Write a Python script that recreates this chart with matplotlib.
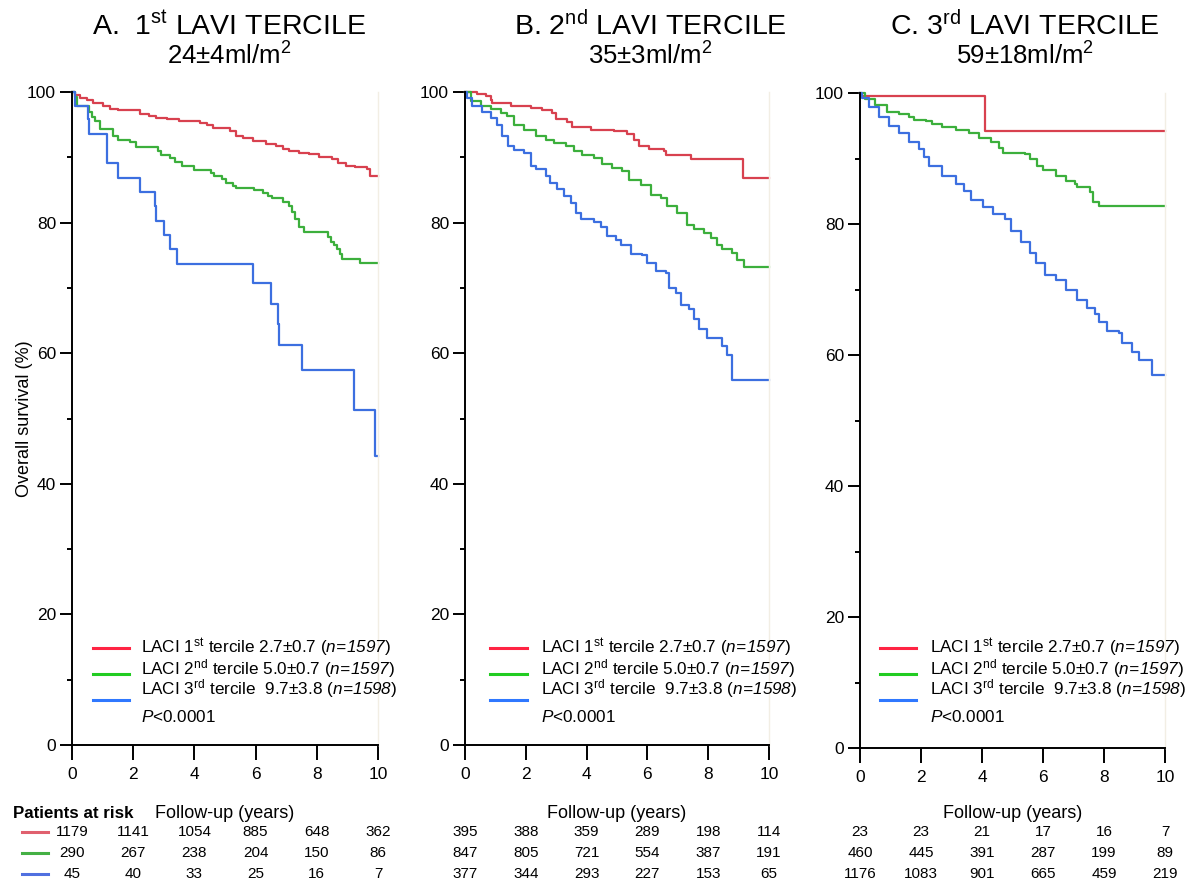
import matplotlib.pyplot as plt
import matplotlib.transforms as mtransforms

plt.rcParams['font.family'] = ['Liberation Sans', 'DejaVu Sans']
plt.rcParams['mathtext.fontset'] = 'custom'
plt.rcParams['mathtext.rm'] = 'Liberation Sans:italic'
plt.rcParams['mathtext.it'] = 'Liberation Sans:italic'
plt.rcParams['mathtext.sf'] = 'Liberation Sans'

W, H = 1194, 886

# ---- data ----
titles = [r'A.  1$^{\mathsf{st}}$ LAVI TERCILE',
          r'B. 2$^{\mathsf{nd}}$ LAVI TERCILE',
          r'C. 3$^{\mathsf{rd}}$ LAVI TERCILE']
subtitles = [r'24±4ml/m$^{\mathsf{2}}$',
             r'35±3ml/m$^{\mathsf{2}}$',
             r'59±18ml/m$^{\mathsf{2}}$']
legend_labels = [r'LACI 1$^{\mathsf{st}}$ tercile 2.7±0.7 ($\mathrm{n\!=\!1597}$)',
                 r'LACI 2$^{\mathsf{nd}}$ tercile 5.0±0.7 ($\mathrm{n\!=\!1597}$)',
                 r'LACI 3$^{\mathsf{rd}}$ tercile  9.7±3.8 ($\mathrm{n\!=\!1598}$)']
p_label = r'$\mathit{P}$<0.0001'

risk_times = [0, 2, 4, 6, 8, 10]

# panel A
a_red_t = [0, 0.1, 0.27, 0.5, 0.7, 1.0, 1.25, 1.5, 1.79, 2.22, 2.5, 2.76, 3.09, 3.5, 3.85, 4.17, 4.4,
           4.6, 5.15, 5.36, 5.6, 5.9, 6.34, 6.66, 6.88, 7.1, 7.42, 7.75, 8.07, 8.5, 8.7, 8.94,
           9.26, 9.64, 9.75, 10]
a_red_s = [100, 99.6, 99.1, 98.7, 98.3, 97.9, 97.4, 97.3, 97.2, 96.7, 96.4, 96.05, 95.8, 95.6, 95.5,
           95.2, 94.9, 94.5, 94.0, 93.3, 92.9, 92.5, 92.0, 91.7, 91.2, 91.0, 90.7, 90.5, 90.0,
           89.7, 89.2, 88.7, 88.5, 88.2, 87.1, 87.1]
a_green_t = [0, 0.1, 0.16, 0.55, 0.65, 0.76, 0.92, 1.35, 1.5, 1.9, 2.1, 2.8, 2.9, 3.2, 3.35, 3.58,
             3.98, 4.55, 4.65, 4.9, 5.04, 5.25, 5.36, 5.96, 6.23, 6.4, 6.55, 6.88, 7.1, 7.18, 7.28,
             7.42, 7.58, 8.36, 8.45, 8.55, 8.65, 8.75, 8.83, 9.4, 10]
a_green_s = [100, 99.3, 97.8, 97.0, 96.2, 95.5, 94.3, 93.3, 92.7, 92.3, 91.6, 91.0, 90.4, 89.9, 89.3,
             88.7, 88.1, 87.6, 87.1, 86.7, 86.1, 85.6, 85.3, 85.0, 84.6, 84.1, 83.7, 83.1, 82.5,
             81.6, 80.6, 79.3, 78.6, 77.8, 77.1, 76.5, 75.9, 75.2, 74.5, 73.8, 73.8]
a_blue_t = [0, 0.1, 0.52, 0.57, 1.15, 1.49, 2.21, 2.7, 2.73, 3.0, 3.21, 3.42, 5.92, 6.51, 6.73, 6.76,
            7.51, 9.22, 9.89, 10]
a_blue_s = [100, 97.8, 95.8, 93.5, 89.1, 86.9, 84.7, 82.6, 80.3, 78.1, 75.9, 73.6, 70.7, 67.5, 64.4,
            61.3, 57.5, 51.3, 44.2, 44.2]

# panel B
b_red_t = [0, 0.41, 0.68, 0.84, 0.9, 1.5, 2.16, 2.54, 2.87, 2.98, 3.37, 3.53, 4.13, 4.9, 5.34, 5.56,
           5.72, 6.05, 6.55, 6.6, 7.42, 9.14, 10]
b_red_s = [100, 99.7, 99.4, 98.8, 98.3, 97.9, 97.6, 97.2, 96.8, 95.8, 95.4, 94.7, 94.2, 94.0, 93.5,
           92.7, 91.8, 91.3, 90.9, 90.3, 89.8, 86.9, 86.9]
b_green_t = [0, 0.19, 0.52, 0.84, 1.17, 1.39, 1.61, 1.94, 2.32, 2.65, 2.93, 3.31, 3.59, 3.86, 4.24,
             4.52, 4.85, 5.18, 5.39, 5.78, 6.11, 6.44, 6.66, 6.98, 7.31, 7.53, 7.86, 8.08, 8.3,
             8.46, 8.79, 8.96, 9.18, 10]
b_green_s = [100, 98.6, 97.9, 97.4, 96.8, 96.3, 95.0, 94.2, 93.2, 92.6, 92.2, 91.7, 90.9, 90.3, 89.9,
             88.9, 88.4, 87.9, 86.6, 85.8, 84.3, 83.8, 82.5, 81.5, 79.7, 79.0, 78.4, 77.7, 76.6,
             75.9, 75.4, 74.3, 73.2, 73.2]
b_blue_t = [0, 0.08, 0.24, 0.57, 0.84, 1.06, 1.23, 1.41, 1.61, 1.94, 2.16, 2.32, 2.65, 2.81, 3.03,
            3.26, 3.48, 3.64, 3.8, 4.24, 4.46, 4.68, 4.96, 5.12, 5.45, 5.83, 6.0, 6.27, 6.6, 6.71,
            6.93, 7.09, 7.37, 7.53, 7.7, 7.97, 8.35, 8.46, 8.63, 8.79, 10]
b_blue_s = [100, 99.1, 97.8, 97.0, 96.0, 95.0, 93.2, 91.7, 91.1, 90.7, 88.6, 88.2, 87.1, 86.1, 85.1,
            84.0, 83.0, 81.5, 80.6, 80.1, 79.4, 77.9, 77.4, 76.6, 75.2, 75.0, 73.8, 72.6, 72.3,
            70.0, 69.2, 67.4, 66.7, 65.2, 63.7, 62.4, 62.3, 61.1, 59.8, 55.9, 55.9]

# panel C
c_red_t = [0, 0.03, 4.1, 10]
c_red_s = [100, 99.5, 94.2, 94.2]
c_green_t = [0, 0.17, 0.5, 0.88, 1.27, 1.6, 1.76, 2.15, 2.37, 2.7, 3.14, 3.58, 3.91, 4.3, 4.57, 4.68,
             5.4, 5.57, 5.79, 6.0, 6.44, 6.77, 7.05, 7.1, 7.49, 7.54, 7.65, 7.85, 10]
c_green_s = [100, 99.1, 98.1, 97.1, 96.8, 96.4, 95.9, 95.7, 95.3, 94.8, 94.3, 93.9, 93.2, 92.5, 91.6,
             90.8, 90.7, 89.9, 88.8, 88.2, 87.4, 86.6, 86.1, 85.6, 85.6, 84.9, 83.4, 82.7, 82.7]
c_blue_t = [0, 0.05, 0.28, 0.61, 0.94, 1.27, 1.6, 1.93, 2.1, 2.26, 2.7, 3.14, 3.41, 3.63, 4.02, 4.35,
            4.74, 4.96, 5.29, 5.56, 5.78, 6.06, 6.44, 6.77, 7.1, 7.43, 7.71, 7.82, 8.09, 8.48, 8.59,
            8.92, 9.14, 9.58, 10]
c_blue_s = [100, 99.3, 97.8, 96.3, 95.0, 93.9, 92.5, 91.5, 90.2, 88.9, 87.4, 86.1, 85.1, 83.6, 82.6,
            81.6, 80.7, 79.0, 77.3, 75.6, 74.0, 72.2, 71.4, 69.9, 68.4, 67.1, 66.3, 65.1, 63.6,
            63.3, 61.9, 60.4, 59.2, 57.0, 57.0]

risk_a = [[1179, 1141, 1054, 885, 648, 362], [290, 267, 238, 204, 150, 86], [45, 40, 33, 25, 16, 7]]
risk_b = [[395, 388, 359, 289, 198, 114], [847, 805, 721, 554, 387, 191], [377, 344, 293, 227, 153, 65]]
risk_c = [[23, 23, 21, 17, 16, 7], [460, 445, 391, 287, 199, 89], [1176, 1083, 901, 665, 459, 219]]

curves = [[(a_red_t, a_red_s), (a_green_t, a_green_s), (a_blue_t, a_blue_s)],
          [(b_red_t, b_red_s), (b_green_t, b_green_s), (b_blue_t, b_blue_s)],
          [(c_red_t, c_red_s), (c_green_t, c_green_s), (c_blue_t, c_blue_s)]]
risks = [risk_a, risk_b, risk_c]

# ---- style / layout ----
curve_colors = ['#d8414f', '#3caf3c', '#3c6fe0']
legend_colors = ['#ff2443', '#22cc22', '#2f78ff']
risk_line_colors = ['#e0606e', '#44b044', '#5070e0']

boxes = [(72, 92, 378, 745), (465, 92, 769, 745), (860, 93, 1165, 748)]  # pixel: left, top, right, bottom
title_x = [229, 650, 1025]
leg_line_x = [(93, 129), (490, 527), (880, 916)]
leg_text_x = [141, 541, 930]


def fx(x):
    return x / W


def fy(y):
    return 1 - y / H


fig = plt.figure(figsize=(W / 100, H / 100), dpi=100)

for i in range(3):
    l, t, r, b = boxes[i]
    ax = fig.add_axes([fx(l), fy(b), (r - l) / W, (b - t) / H])
    for k in range(3):
        tt, ss = curves[i][k]
        ax.step(tt, ss, where='post', color=curve_colors[k], lw=1.6, clip_on=False)
    ax.set_xlim(0, 10)
    ax.set_ylim(0, 100)
    ax.set_xticks([0, 2, 4, 6, 8, 10])
    ax.set_yticks([0, 20, 40, 60, 80, 100])
    ax.set_yticks([10, 30, 50, 70, 90], minor=True)
    ax.tick_params(axis='x', length=11, width=1.4, pad=5, labelsize=12.5)
    ax.tick_params(axis='y', which='major', length=8.5, width=1.4, pad=3, labelsize=12.5)
    ax.tick_params(axis='y', which='minor', length=3.5, width=1.4)
    ax.spines['top'].set_visible(False)
    ax.spines['right'].set_color('#f2eee4')
    ax.spines['right'].set_linewidth(1)
    ax.spines['left'].set_linewidth(1.4)
    ax.spines['bottom'].set_linewidth(1.4)
    if i == 0:
        ax.set_ylabel('Overall survival (%)', fontsize=13)
        ax.yaxis.set_label_coords(-0.127, 0.5)

    # titles
    fig.text(fx(title_x[i]), fy(35), titles[i], fontsize=20.5, ha='center', va='baseline')
    fig.text(fx(title_x[i]), fy(65), subtitles[i], fontsize=18.5, ha='center', va='baseline')

    # legend inside plot
    line_y = [648, 674, 700]
    text_y = [648, 669, 689]
    for k in range(3):
        x1, x2 = leg_line_x[i]
        fig.add_artist(plt.Line2D([fx(x1), fx(x2)], [fy(line_y[k]), fy(line_y[k])],
                                  transform=fig.transFigure, color=legend_colors[k], lw=2.2))
        fig.text(fx(leg_text_x[i]), fy(text_y[k]), legend_labels[k], fontsize=12.3, va='center')
    fig.text(fx(leg_text_x[i]), fy(717), p_label, fontsize=12.3, va='center')

    # patients at risk table
    trans = mtransforms.blended_transform_factory(ax.transData, fig.transFigure)
    ax.text(0.5, fy(813), 'Follow-up (years)', transform=mtransforms.blended_transform_factory(
        ax.transAxes, fig.transFigure), ha='center', va='center', fontsize=13, clip_on=False)
    row_y = [832, 853, 874]
    for k in range(3):
        for j in range(len(risk_times)):
            ax.text(risk_times[j], fy(row_y[k]), str(risks[i][k][j]), transform=trans,
                    ha='center', va='center', fontsize=11, clip_on=False)

fig.text(fx(13), fy(813), 'Patients at risk', fontsize=12.2, fontweight='bold', va='center')
for k in range(3):
    fig.add_artist(plt.Line2D([fx(22), fx(48)], [fy([832, 853, 874][k])] * 2,
                              transform=fig.transFigure, color=risk_line_colors[k], lw=2.2))

fig.savefig('out.png', dpi=100)
